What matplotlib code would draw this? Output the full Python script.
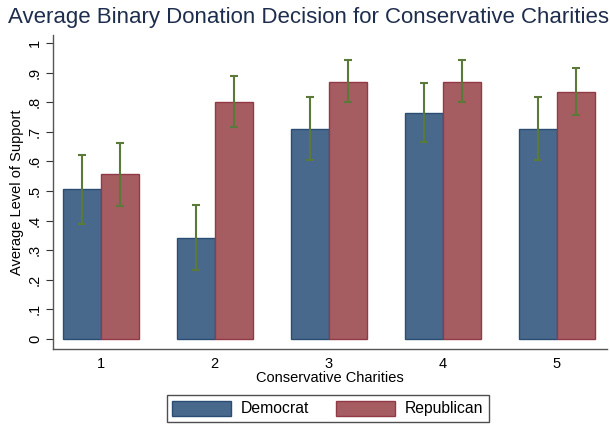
import matplotlib
matplotlib.use("Agg")
import matplotlib.pyplot as plt
import numpy as np
from matplotlib.patches import Patch

plt.rcParams['font.family'] = ['Liberation Sans', 'DejaVu Sans']

charities = ["1", "2", "3", "4", "5"]
dem_mean = [0.506, 0.341, 0.710, 0.765, 0.709]
dem_lo = [0.388, 0.232, 0.605, 0.667, 0.605]
dem_hi = [0.623, 0.454, 0.818, 0.866, 0.818]
rep_mean = [0.557, 0.802, 0.869, 0.869, 0.834]
rep_lo = [0.450, 0.715, 0.800, 0.800, 0.757]
rep_hi = [0.663, 0.887, 0.943, 0.943, 0.916]
yticks = [0, .1, .2, .3, .4, .5, .6, .7, .8, .9, 1]
ytick_labels = ["0", ".1", ".2", ".3", ".4", ".5", ".6", ".7", ".8", ".9", "1"]

dem_fill, dem_edge = "#48698b", "#2a4d74"
rep_fill, rep_edge = "#a55d62", "#933845"
ci_color = "#5b7a3a"

W, H = 610, 424
fig = plt.figure(figsize=(W / 100, H / 100), dpi=100)
ax = fig.add_axes([53 / W, 1 - 349 / H, (607 - 53) / W, (349 - 35) / H])

x = np.arange(1, len(charities) + 1)
bw = 0.333
ax.bar(x - bw / 2, dem_mean, bw, color=dem_fill, edgecolor=dem_edge, linewidth=1.0)
ax.bar(x + bw / 2, rep_mean, bw, color=rep_fill, edgecolor=rep_edge, linewidth=1.0)

for xs, m, lo, hi in [(x - bw / 2, dem_mean, dem_lo, dem_hi), (x + bw / 2, rep_mean, rep_lo, rep_hi)]:
    m = np.array(m)
    err = np.vstack([m - np.array(lo), np.array(hi) - m])
    ax.errorbar(xs, m, yerr=err, fmt='none', ecolor=ci_color, elinewidth=1.5,
                capsize=3.2, capthick=1.5)

ax.set_xlim(1 - 47.7 / 114, 1 + (607 - 100.7) / 114)
ax.set_ylim(-10 / 296, 1 + 8 / 296)
ax.set_xticks(x)
ax.set_xticklabels(charities, fontsize=10.5)
ax.tick_params(axis='x', length=0, pad=6)
ax.set_yticks(yticks)
ax.set_yticklabels(ytick_labels, fontsize=10.5, rotation=90, va='center')
ax.tick_params(axis='y', length=5, width=0.8, color='#333333', pad=3)
for s in ['top', 'right']:
    ax.spines[s].set_visible(False)
for s in ['left', 'bottom']:
    ax.spines[s].set_color('#555555')
    ax.spines[s].set_linewidth(1.0)

ax.set_xlabel("Conservative Charities", fontsize=10.5, labelpad=0)
ax.set_ylabel("Average Level of Support", fontsize=10.5, labelpad=3)

fig.text(308 / W, 1 - 18 / H, "Average Binary Donation Decision for Conservative Charities",
         ha='center', va='center', fontsize=16, color='#1e2d4d')

handles = [Patch(facecolor=dem_fill, edgecolor=dem_edge, label="Democrat"),
           Patch(facecolor=rep_fill, edgecolor=rep_edge, label="Republican")]
leg = fig.legend(handles=handles, loc='center', bbox_to_anchor=(328 / W, 1 - 408.5 / H),
                 ncol=2, fontsize=11.3, frameon=True, fancybox=False,
                 handlelength=3.75, handleheight=1.1, columnspacing=1.7, handletextpad=0.64,
                 borderpad=0.35, borderaxespad=0)
leg.get_frame().set_edgecolor('#222222')
leg.get_frame().set_linewidth(1.0)

fig.savefig("out.png", dpi=100, facecolor='white')
